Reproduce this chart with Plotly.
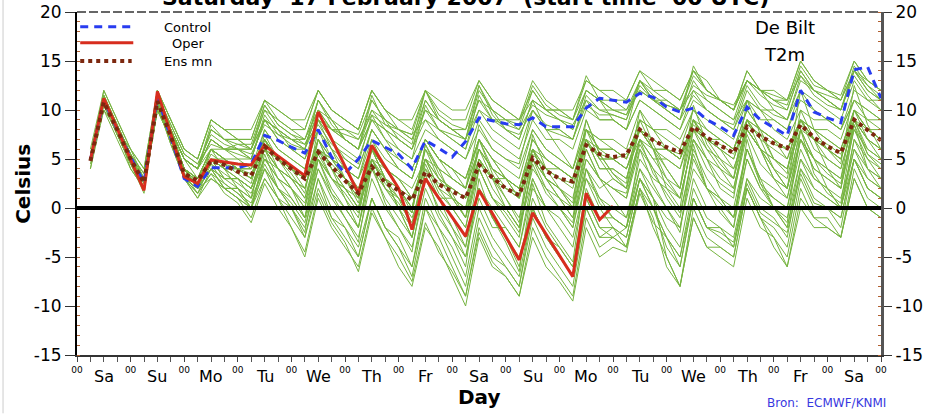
import plotly.graph_objects as go

# ---------------- data ----------------
hours = list(range(6, 361, 6))          # forecast steps (h) for control / ensemble
oper_hours = list(range(6, 241, 6))     # operational run (10 days)
day_names = ["Sa", "Su", "Mo", "Tu", "We", "Th", "Fr", "Sa", "Su", "Mo", "Tu", "We", "Th", "Fr", "Sa"]
midnights = list(range(0, 361, 24))
y_ticks = [-15, -10, -5, 0, 5, 10, 15, 20]
y_tick_labels = ["-15", "-10", "-5", "0", "5", "10", "15", "20"]

control = [4.9, 11.0, 8.0,
           5.2, 2.6, 11.3, 7.2,
           3.0, 2.2, 4.1, 4.1,
           4.1, 4.5, 7.4, 6.9,
           6.2, 5.6, 8.0, 5.2,
           3.5, 5.0, 6.9, 6.2,
           5.5, 4.0, 6.9, 6.1,
           5.2, 6.8, 9.2, 8.9,
           8.6, 8.5, 9.2, 8.3,
           8.3, 8.3, 10.2, 11.2,
           11.0, 10.8, 11.7, 11.3,
           10.3, 9.8, 10.2, 9.0,
           8.3, 7.4, 10.3, 9.0,
           8.2, 7.4, 12.0, 9.8,
           9.2, 8.7, 14.1, 14.4,
           11.2]

oper = [4.9, 11.2, 8.1,
        5.0, 1.8, 11.9, 7.5,
        3.2, 2.5, 4.9, 4.7,
        4.5, 4.4, 6.4, 5.3,
        4.3, 3.3, 9.8, 7.0,
        4.3, 1.5, 6.4, 4.2,
        2.0, -2.2, 3.0, 1.0,
        -1.0, -2.9, 1.8, -0.6,
        -2.9, -5.3, -0.5, -2.7,
        -4.8, -7.0, 1.5, -1.2,
        0.2]

ens_mean = [4.8, 10.8, 8.0,
            5.0, 2.6, 10.9, 7.3,
            3.5, 2.8, 4.8, 4.4,
            3.7, 3.3, 6.3, 5.0,
            4.0, 3.0, 5.7, 4.2,
            2.8, 1.5, 4.2, 2.6,
            1.8, 0.8, 3.7, 2.4,
            1.7, 1.0, 4.4, 3.1,
            2.0, 1.3, 5.1, 3.8,
            3.0, 2.7, 6.4, 5.5,
            5.2, 5.4, 8.0, 6.9,
            6.2, 5.7, 8.3, 7.2,
            6.4, 5.6, 8.3, 7.3,
            6.6, 6.1, 8.5, 7.2,
            6.3, 5.6, 9.0, 8.0,
            6.9]

member_01 = [5, 11, 8, 5, 3, 11, 8, 5, 4, 7, 6, 6, 6, 9, 8, 7, 7, 10, 8, 8, 7, 10, 9, 8, 7, 10, 9, 8, 8, 11, 10, 9, 9, 11, 10, 10, 9, 12, 11, 11, 10, 12, 11, 11, 10, 12, 11, 10, 9, 11, 10, 9, 8, 11, 10, 9, 8, 12, 11, 10]
member_02 = [5, 11, 8, 5, 2, 12, 8, 4, 2, 5, 4, 4, 4, 6, 5, 4, 3, 9, 6, 3, 1, 6, 3, 1, -2, 3, 1, -1, -3, 2, -1, -3, -5, 0, -3, -5, -7, 1, -2, -2, -3, 3, 1, -1, -2, 4, 2, 1, 0, 6, 3, 2, 1, 7, 4, 3, 2, 8, 5, 4]
member_03 = [4, 10, 7, 4, 2, 10, 7, 3, 1, 3, 2, 1, 0, 4, 2, 0, -2, 3, 0, -2, -4, 1, -2, -4, -6, 0, -2, -5, -8, -1, -4, -6, -8, 0, -3, -5, -7, 0, -3, -3, -4, 2, 0, -4, -6, 1, -2, -2, -3, 3, 1, 0, -1, 5, 2, 1, 0, 6, 3, 2]
member_04 = [5, 11, 8, 5, 3, 11, 7, 4, 2, 4, 2, 1, -1, 3, 1, -2, -5, 1, -2, -4, -6, 0, -3, -6, -8, -2, -4, -7, -10, -3, -6, -7, -9, -2, -5, -7, -9, -1, -4, -3, -2, 3, 1, -5, -8, 0, -3, -4, -5, 2, -1, -3, -6, 1, -1, -1, -3, 4, 1, 0]
member_05 = [5, 11, 8, 5, 3, 11, 8, 4, 3, 5, 5, 4, 3, 6, 5, 4, 3, 6, 5, 4, 3, 6, 4, 3, 2, 5, 4, 3, 2, 6, 4, 3, 2, 6, 5, 4, 3, 7, 6, 6, 5, 8, 7, 6, 5, 8, 7, 7, 6, 9, 8, 7, 6, 9, 8, 7, 6, 10, 9, 8]
member_06 = [6, 12, 9, 6, 4, 12, 9, 6, 5, 9, 8, 7, 7, 11, 10, 9, 9, 12, 10, 9, 8, 12, 10, 9, 9, 12, 11, 10, 10, 13, 11, 10, 9, 12, 10, 10, 10, 13, 12, 11, 11, 14, 12, 12, 11, 14, 13, 11, 10, 13, 12, 11, 11, 15, 13, 12, 11, 15, 13, 12]
member_07 = [5, 11, 8, 5, 2, 11, 7, 3, 2, 6, 4, 2, 1, 7, 4, 2, 0, 7, 4, 1, -1, 6, 3, 0, -2, 5, 2, 0, -2, 5, 2, 0, -2, 6, 3, 1, 0, 8, 5, 3, 2, 9, 6, 2, 0, 8, 5, 2, 1, 9, 6, 3, 2, 10, 7, 4, 3, 10, 7, 5]
member_08 = [4, 11, 8, 5, 3, 12, 8, 5, 4, 6, 5, 5, 4, 8, 6, 5, 4, 8, 6, 5, 4, 8, 6, 5, 4, 7, 5, 4, 3, 7, 5, 3, 1, 6, 3, 2, 0, 5, 3, 1, -1, 5, 3, 2, 1, 7, 5, 4, 3, 8, 6, 5, 4, 9, 7, 6, 5, 9, 7, 6]
member_09 = [5, 10, 8, 5, 3, 11, 7, 4, 2, 4, 3, 3, 2, 5, 4, 3, 1, 5, 3, 2, 0, 4, 2, 1, -1, 3, 1, 1, 0, 5, 3, 3, 2, 6, 4, 4, 3, 7, 5, 5, 4, 8, 6, 6, 5, 9, 7, 5, 4, 8, 6, 4, 2, 7, 5, 4, 3, 8, 6, 5]
member_10 = [5, 11, 8, 5, 3, 11, 8, 5, 3, 6, 6, 6, 5, 9, 8, 7, 6, 9, 8, 7, 6, 9, 8, 7, 6, 10, 8, 7, 6, 10, 8, 7, 6, 10, 8, 8, 7, 11, 9, 9, 8, 11, 10, 9, 8, 11, 10, 9, 8, 12, 10, 10, 9, 12, 11, 10, 9, 13, 11, 11]
member_11 = [5, 11, 8, 4, 2, 10, 7, 3, 2, 3, 2, 2, 1, 4, 2, 1, -1, 4, 1, -1, -3, 3, 0, -2, -4, 2, -1, -3, -5, 1, -2, -2, -4, 2, 0, 0, -2, 4, 2, 3, 2, 7, 5, 5, 4, 9, 7, 6, 5, 9, 8, 5, 4, 8, 7, 5, 4, 9, 7, 6]
member_12 = [5, 11, 8, 5, 3, 11, 8, 5, 4, 8, 7, 7, 6, 9, 8, 6, 5, 8, 6, 4, 2, 6, 4, 3, 1, 5, 3, 2, 1, 6, 4, 3, 2, 7, 5, 4, 3, 8, 6, 5, 4, 7, 6, 6, 5, 9, 8, 7, 6, 10, 8, 7, 6, 9, 8, 7, 6, 10, 8, 8]
member_13 = [5, 11, 8, 5, 3, 11, 8, 4, 3, 6, 5, 4, 4, 7, 5, 4, 3, 7, 5, 4, 3, 7, 5, 4, 3, 7, 5, 3, 2, 7, 4, 2, 1, 5, 3, 1, -1, 4, 1, -1, -2, 3, 0, -3, -6, 1, -2, -3, -4, 2, -1, -2, -4, 3, 0, 0, -1, 5, 2, 1]
member_14 = [5, 11, 8, 5, 2, 11, 7, 4, 2, 5, 3, 3, 2, 6, 4, 2, 0, 5, 2, 0, -2, 4, 1, -1, -3, 3, 0, -2, -5, 2, -1, -3, -6, 1, -2, -4, -6, 1, -2, -3, -4, 2, -1, -6, -8, -1, -4, -4, -5, 2, -1, -4, -6, 0, -2, -2, -3, 3, 0, -1]
member_15 = [5, 12, 9, 6, 3, 12, 9, 6, 5, 9, 8, 8, 8, 11, 10, 9, 8, 12, 10, 9, 8, 12, 10, 8, 7, 11, 9, 8, 7, 11, 9, 9, 8, 12, 10, 9, 8, 12, 11, 10, 10, 13, 12, 11, 10, 14, 12, 11, 10, 13, 12, 10, 9, 13, 12, 11, 10, 14, 13, 12]
member_16 = [5, 11, 8, 5, 3, 11, 8, 4, 3, 6, 5, 4, 3, 8, 6, 5, 4, 9, 7, 5, 4, 8, 6, 4, 3, 7, 5, 4, 3, 7, 5, 4, 3, 8, 6, 5, 4, 8, 7, 6, 5, 9, 8, 7, 6, 10, 8, 7, 6, 10, 8, 7, 5, 9, 8, 8, 7, 11, 9, 9]
member_17 = [5, 11, 8, 5, 3, 11, 7, 3, 1, 4, 3, 2, 0, 5, 3, 1, -1, 5, 3, 2, 0, 6, 4, 2, 0, 6, 4, 1, -1, 5, 3, 0, -2, 4, 2, 0, -2, 5, 3, 2, 1, 7, 5, 3, 2, 8, 6, 4, 2, 8, 6, 3, 1, 7, 5, 2, 0, 7, 5, 3]
member_18 = [5, 11, 8, 5, 2, 11, 7, 4, 2, 5, 4, 3, 2, 6, 4, 3, 2, 6, 4, 2, 0, 5, 3, 0, -3, 3, 1, -2, -4, 2, 0, -2, -4, 3, 0, -2, -4, 3, 1, 0, -1, 4, 2, 0, -2, 5, 2, 1, -1, 6, 3, 0, -2, 5, 3, 2, 1, 6, 4, 3]
member_19 = [5, 11, 8, 5, 3, 11, 8, 5, 4, 7, 6, 5, 5, 9, 7, 6, 6, 10, 8, 7, 6, 10, 8, 7, 6, 9, 7, 6, 5, 8, 6, 5, 4, 8, 6, 5, 4, 8, 7, 7, 6, 10, 8, 8, 7, 10, 9, 8, 7, 11, 9, 9, 8, 12, 10, 9, 8, 11, 10, 9]
member_20 = [5, 11, 8, 5, 2, 11, 7, 3, 2, 4, 2, 1, 0, 3, 1, -1, -3, 2, -1, -3, -5, 1, -2, -3, -6, 1, -2, -4, -7, 0, -3, -5, -7, 0, -3, -4, -6, 2, -1, -1, -2, 4, 1, -2, -4, 3, 0, 0, -2, 5, 2, 1, 0, 6, 3, 2, 0, 7, 4, 3]
member_21 = [5, 11, 8, 5, 3, 11, 8, 4, 3, 6, 5, 4, 3, 7, 5, 3, 2, 7, 5, 4, 3, 8, 6, 4, 3, 7, 5, 4, 3, 7, 5, 3, 2, 7, 5, 4, 3, 8, 6, 6, 5, 9, 8, 6, 5, 9, 7, 6, 4, 8, 6, 5, 4, 9, 7, 6, 5, 10, 8, 7]
member_22 = [5, 11, 8, 5, 3, 12, 8, 5, 4, 8, 7, 6, 6, 10, 8, 7, 6, 11, 9, 7, 6, 11, 9, 7, 6, 11, 9, 8, 7, 12, 10, 8, 7, 11, 10, 9, 8, 12, 11, 9, 8, 13, 11, 10, 9, 13, 11, 10, 9, 13, 12, 11, 10, 14, 12, 11, 10, 14, 12, 11]
member_23 = [5, 11, 8, 5, 3, 11, 7, 4, 2, 5, 3, 3, 1, 6, 3, 2, -1, 6, 3, 1, -2, 5, 2, 0, -3, 4, 1, -1, -4, 4, 1, -1, -3, 5, 2, 1, -1, 7, 4, 4, 3, 8, 6, 4, 2, 9, 6, 5, 3, 9, 7, 4, 2, 8, 5, 4, 2, 9, 6, 5]
member_24 = [5, 11, 8, 5, 2, 11, 7, 3, 2, 4, 2, 2, 0, 4, 1, 0, -3, 3, -1, -2, -5, 1, -2, -4, -7, 0, -3, -6, -9, -2, -5, -6, -8, -1, -4, -6, -8, 0, -3, -2, -3, 3, 0, -3, -5, 2, -1, -2, -4, 3, 0, -1, -3, 4, 1, 0, -2, 5, 2, 1]
member_25 = [5, 11, 8, 5, 3, 11, 8, 4, 3, 5, 4, 4, 3, 7, 5, 4, 3, 6, 5, 3, 2, 5, 4, 3, 1, 5, 3, 2, 1, 5, 3, 2, 1, 6, 4, 3, 2, 7, 5, 5, 4, 8, 6, 5, 4, 8, 7, 6, 5, 9, 7, 6, 5, 9, 7, 6, 5, 10, 8, 7]
member_26 = [5, 11, 8, 5, 3, 11, 8, 5, 4, 8, 7, 7, 6, 10, 9, 8, 7, 10, 9, 7, 6, 9, 8, 6, 5, 8, 7, 6, 5, 9, 7, 6, 5, 9, 7, 7, 6, 10, 9, 9, 8, 11, 10, 9, 8, 12, 10, 9, 8, 11, 10, 8, 7, 10, 9, 9, 8, 11, 10, 9]
member_27 = [5, 11, 8, 5, 3, 11, 7, 4, 2, 5, 4, 3, 2, 6, 4, 3, 1, 6, 4, 2, 1, 6, 4, 2, 0, 6, 3, 1, 0, 6, 3, 1, -1, 5, 3, 2, 1, 7, 4, 4, 3, 8, 6, 3, 1, 7, 5, 3, 2, 8, 6, 4, 3, 9, 6, 5, 4, 9, 7, 6]
member_28 = [5, 11, 8, 5, 3, 11, 8, 5, 4, 7, 6, 6, 5, 9, 7, 6, 5, 9, 7, 6, 5, 9, 7, 5, 4, 7, 5, 4, 2, 6, 4, 3, 1, 6, 3, 2, 0, 6, 3, 2, 1, 6, 4, 1, -1, 6, 3, 1, -1, 5, 2, 0, -2, 4, 2, 1, 0, 5, 3, 2]
member_29 = [5, 11, 8, 5, 3, 11, 8, 4, 3, 6, 5, 4, 3, 7, 5, 4, 2, 7, 4, 3, 1, 6, 3, 2, 0, 5, 2, 1, -1, 4, 1, 0, -2, 3, 0, -1, -3, 3, 0, -2, -4, 2, -2, -5, -8, -1, -4, -5, -6, 1, -2, -3, -5, 2, -1, -2, -3, 3, 0, -1]
member_30 = [5, 11, 8, 6, 4, 12, 9, 6, 5, 9, 8, 7, 7, 11, 9, 8, 8, 12, 10, 9, 8, 12, 10, 9, 8, 12, 10, 9, 9, 13, 11, 10, 9, 13, 11, 10, 9, 13, 12, 12, 11, 14, 13, 12, 11, 14, 12, 11, 10, 14, 12, 12, 11, 15, 13, 12, 11, 14, 12, 11]
member_31 = [5, 10.5, 7.5, 4.5, 2.5, 10.5, 7, 4, 2.5, 5.5, 4.5, 3.5, 2.5, 7.5, 5, 3.5, 1.5, 8, 5, 3, 0.5, 7, 4, 2, -0.5, 6.5, 3.5, 1.5, -1, 7, 3.5, 1, -1.5, 7.5, 4, 2, 0.5, 9, 5.5, 3.5, 2.5, 10, 6.5, 4, 2, 10.5, 6.5, 4.5, 3, 11, 7.5, 5, 3.5, 12, 8, 6, 4.5, 12.5, 8.5, 6]
member_32 = [5.5, 11.5, 8.5, 5.5, 3.5, 11.5, 8.5, 5.5, 4.5, 7.5, 6.5, 6, 5.5, 8.5, 7.5, 7, 6.5, 9.5, 8, 7.5, 7, 9.5, 8.5, 8, 7.5, 9, 8, 7.5, 7, 10, 9, 8.5, 8, 10.5, 9.5, 9, 8.5, 11, 10, 10, 9.5, 12, 11, 10.5, 10, 12.5, 11.5, 11, 10.5, 13, 12, 11.5, 11, 13.5, 12, 11.5, 11, 14, 12.5, 11.5]
member_33 = [4.5, 10.5, 7.5, 4.5, 1.5, 10.5, 6.5, 3, 1.5, 4.5, 2.5, 1.5, 0, 5.5, 2, 0, -2.5, 5, 1.5, -1, -3.5, 4.5, 0.5, -2, -4.5, 3.5, -0.5, -3, -6, 3, -1, -3.5, -6.5, 2.5, -1.5, -3.5, -5.5, 4, 0.5, -1, -2, 6, 2.5, 0, -2.5, 6.5, 2, -0.5, -2, 7, 2.5, 0, -1.5, 8, 3.5, 1.5, 0.5, 8.5, 4, 2]
member_34 = [5, 11, 8, 5, 2.5, 11, 7.5, 3.5, 3, 5, 4.5, 4, 3.5, 6.5, 5, 4, 3, 6, 4.5, 3, 1.5, 4.5, 3, 2, 1, 4, 2.5, 2, 1, 4.5, 3, 2, 1.5, 5.5, 4, 3, 2.5, 6.5, 5.5, 5, 5.5, 8, 7, 6, 5.5, 8.5, 7, 6.5, 5.5, 8.5, 7.5, 6.5, 6, 8.5, 7, 6.5, 5.5, 9, 8, 7]
member_35 = [5, 11.5, 8.5, 5.5, 3, 11.5, 8, 5, 4, 7, 6, 5.5, 5, 9.5, 7.5, 6.5, 6, 11, 8.5, 7, 6, 11.5, 8.5, 7.5, 6.5, 12, 9, 8, 7, 12.5, 9.5, 8, 7, 11, 8, 6, 4, 9, 5.5, 3.5, 2, 7, 3.5, 1.5, -0.5, 5.5, 2, 0.5, -1, 6, 2.5, 1, 0, 7, 4, 3, 2, 9, 5.5, 4.5]
member_36 = [5, 10.5, 7.5, 4.5, 2, 10, 7, 3.5, 1.5, 3.5, 2.5, 1.5, 0.5, 4.5, 2, 0.5, -1.5, 4, 1.5, 0, -2, 5, 2.5, 1, -0.5, 6.5, 4, 3, 2, 8.5, 6, 5, 4.5, 10, 8, 7.5, 7, 11.5, 10, 9.5, 9, 13, 11.5, 10.5, 10, 13.5, 12, 11, 10, 13, 11.5, 10.5, 10, 14, 12, 11, 10, 13.5, 11.5, 10]
member_37 = [5, 11, 7.5, 4.5, 2, 10.5, 6.5, 3, 1.5, 3.5, 1.5, 0.5, -1.5, 2.5, 0, -2, -4.5, 1.5, -1.5, -3.5, -6.5, -0.5, -3, -5, -7.5, -1.5, -4.5, -6.5, -9, -2.5, -5.5, -7, -9, -3, -6, -7.5, -9.5, -2, -5, -4, -4.5, 1.5, -1.5, -3, -5, 1, -2, -2.5, -3.5, 2.5, -0.5, -1.5, -2.5, 3.5, 0.5, 0, -1, 5, 2, 1]
member_38 = [5, 11, 8.5, 5.5, 3.5, 11.5, 8.5, 5.5, 4.5, 6.5, 6, 6.5, 6.5, 10.5, 8.5, 7.5, 6.5, 8.5, 6.5, 5.5, 4.5, 9.5, 7, 6, 5, 10.5, 8, 7, 6, 11.5, 9, 8, 7.5, 10, 8.5, 8, 7, 10.5, 9.5, 9.5, 9, 12.5, 11, 10, 9, 11.5, 10, 9, 8.5, 12.5, 10.5, 9.5, 9, 13.5, 11.5, 10.5, 10, 14.5, 12.5, 11]
member_39 = [5, 11, 8, 5, 2.5, 11, 7.5, 4, 2.5, 4.5, 3.5, 2.5, 1.5, 5, 3, 2, 0.5, 5.5, 3, 1.5, -0.5, 5, 2, 0.5, -1.5, 4.5, 1.5, 0, -2, 4, 1, -0.5, -2.5, 4.5, 1.5, 0, -1.5, 6, 3, 2, 1.5, 6.5, 4, 2.5, 1, 7, 4, 2.5, 1.5, 7.5, 4.5, 3, 2, 8, 5, 3.5, 2.5, 8.5, 5.5, 4]
member_40 = [5, 11.5, 8.5, 5.5, 3, 11.5, 8, 5, 4, 8.5, 7, 6.5, 6, 10.5, 8.5, 7.5, 7, 11, 9, 8, 7.5, 11, 9, 8, 7.5, 12, 9.5, 8.5, 8, 12.5, 10, 9, 8.5, 12.5, 10.5, 9.5, 9, 13.5, 11, 10, 9.5, 13, 11, 10, 9, 14.5, 12, 11, 10, 14, 12, 11, 10.5, 14.5, 12.5, 12, 11.5, 15, 13, 12]

members = [member_01, member_02, member_03, member_04, member_05, member_06, member_07, member_08,
           member_09, member_10, member_11, member_12, member_13, member_14, member_15, member_16,
           member_17, member_18, member_19, member_20, member_21, member_22, member_23, member_24,
           member_25, member_26, member_27, member_28, member_29, member_30, member_31, member_32,
           member_33, member_34, member_35, member_36, member_37, member_38, member_39, member_40]

x_range = [0, 360]
y_range = [-15, 20]

# ---------------- style ----------------
FONT = "DejaVu Sans, Liberation Sans, Arial, sans-serif"
GREEN = "rgb(118,180,64)"
BLUE = "rgb(40,60,240)"
RED = "rgb(215,45,30)"
BROWN = "rgb(125,40,15)"

fig = go.Figure()

for m in members:
    fig.add_trace(go.Scatter(x=hours, y=m, mode="lines",
                             line=dict(color=GREEN, width=1),
                             showlegend=False, hoverinfo="skip"))

fig.add_trace(go.Scatter(x=hours, y=control, mode="lines", name="Control",
                         line=dict(color=BLUE, width=3, dash="8px,6px"), showlegend=False))
fig.add_trace(go.Scatter(x=oper_hours, y=oper, mode="lines", name="Oper",
                         line=dict(color=RED, width=3), showlegend=False))
fig.add_trace(go.Scatter(x=hours, y=ens_mean, mode="lines", name="Ens mn",
                         line=dict(color=BROWN, width=4, dash="4px,4px"), showlegend=False))
# invisible trace to activate the right-hand axis
fig.add_trace(go.Scatter(x=[None], y=[None], yaxis="y2", showlegend=False, hoverinfo="skip"))

shapes = [
    # zero line
    dict(type="line", xref="paper", yref="y", x0=0, x1=1, y0=0, y1=0,
         line=dict(color="black", width=4), layer="above"),
    # dashed top frame
    dict(type="line", xref="paper", yref="paper", x0=0, x1=1, y0=1, y1=1,
         line=dict(color="#666666", width=2, dash="9px,3px"), layer="above"),
    # left page edge
    dict(type="line", xref="paper", yref="paper", x0=-0.092, x1=-0.092, y0=-0.17, y1=1.035,
         line=dict(color="#cccccc", width=1)),
    # legend samples
    dict(type="line", xref="paper", yref="paper", x0=0.004, x1=0.068, y0=0.957, y1=0.957,
         line=dict(color=BLUE, width=3, dash="8px,6px")),
    dict(type="line", xref="paper", yref="paper", x0=0.004, x1=0.070, y0=0.910, y1=0.910,
         line=dict(color=RED, width=3)),
    dict(type="line", xref="paper", yref="paper", x0=0.004, x1=0.068, y0=0.857, y1=0.857,
         line=dict(color=BROWN, width=4, dash="4px,4px")),
]

annotations = []
for i, d in enumerate(day_names):
    annotations.append(dict(x=12 + 24 * i, y=-0.064, xref="x", yref="paper", text=d,
                            showarrow=False, font=dict(family=FONT, size=16, color="black"),
                            xanchor="center", yanchor="middle"))
for txt, yy in [("Control", 0.955), ("Oper", 0.908), ("Ens mn", 0.855)]:
    annotations.append(dict(x=0.138, y=yy, xref="paper", yref="paper", text=txt, showarrow=False,
                            font=dict(family=FONT, size=13, color="black"),
                            xanchor="center", yanchor="middle"))
annotations += [
    dict(x=0.88, y=0.955, xref="paper", yref="paper", text="De Bilt", showarrow=False,
         font=dict(family=FONT, size=18, color="black"), xanchor="center", yanchor="middle"),
    dict(x=0.88, y=0.875, xref="paper", yref="paper", text="T2m", showarrow=False,
         font=dict(family=FONT, size=18, color="black"), xanchor="center", yanchor="middle"),
    dict(x=0.5, y=-0.083, xref="paper", yref="paper", text="<b>Day</b>", showarrow=False,
         font=dict(family=FONT, size=20, color="black"), xanchor="center", yanchor="top"),
    dict(x=-0.068, y=0.5, xref="paper", yref="paper", text="<b>Celsius</b>", showarrow=False,
         textangle=-90, font=dict(family=FONT, size=20, color="black"),
         xanchor="center", yanchor="middle"),
    dict(x=0.856, y=-0.115, xref="paper", yref="paper", text="Bron:  ECMWF/KNMI", showarrow=False,
         font=dict(family=FONT, size=12, color="#3838e0"), xanchor="left", yanchor="top"),
    dict(x=0.483, y=1.0, xref="paper", yref="paper",
         text="<b>Saturday  17 February 2007  (start time  00 UTC)</b>", showarrow=False,
         font=dict(family=FONT, size=22, color="black"), xanchor="center", yanchor="bottom"),
]

fig.update_layout(
    width=925, height=415,
    margin=dict(l=77, r=44, t=12, b=60, pad=0, autoexpand=False),
    paper_bgcolor="white", plot_bgcolor="white",
    showlegend=False,
    font=dict(family=FONT, color="black"),
    shapes=shapes,
    annotations=annotations,
    xaxis=dict(range=x_range, tickmode="array", tickvals=midnights, automargin=False,
               ticklabeloverflow="allow",
               ticktext=["00"] * len(midnights), ticks="outside", ticklen=5, tickwidth=1,
               tickcolor="#444444", tickfont=dict(family=FONT, size=9, color="black"),
               showgrid=False, zeroline=False, showline=True, linecolor="#333333", linewidth=2,
               minor=dict(tick0=0, dtick=6, ticks="outside", ticklen=5, tickcolor="#555555",
                          showgrid=False),
               fixedrange=True),
    yaxis=dict(range=y_range, tickmode="array", tickvals=y_ticks, ticktext=y_tick_labels,
               ticks="outside", ticklen=10,
               automargin=False, ticklabeloverflow="allow",
               tickwidth=1, tickcolor="#333333", tickfont=dict(family=FONT, size=17, color="black"),
               showgrid=False, zeroline=False, showline=True, linecolor="black", linewidth=2,
               minor=dict(tick0=0, dtick=1, ticks="inside", ticklen=3, tickcolor="#b06030",
                          showgrid=False),
               fixedrange=True),
    yaxis2=dict(range=y_range, overlaying="y", side="right", tickmode="array", tickvals=y_ticks,
                ticktext=y_tick_labels,
                automargin=False, ticklabeloverflow="allow",
                ticks="outside", ticklen=8, tickwidth=1, tickcolor="#333333",
                tickfont=dict(family=FONT, size=17, color="black"),
                showgrid=False, zeroline=False, showline=True, linecolor="#555555", linewidth=3,
                minor=dict(tick0=0, dtick=1, ticks="inside", ticklen=3, tickcolor="#b06030",
                           showgrid=False),
                fixedrange=True),
)

# remove the default 8 px page margin so the 925x415 figure fills the window exactly
fig.write_html("out.html", config={"displayModeBar": False},
               post_script="document.body.style.margin='0px';")
